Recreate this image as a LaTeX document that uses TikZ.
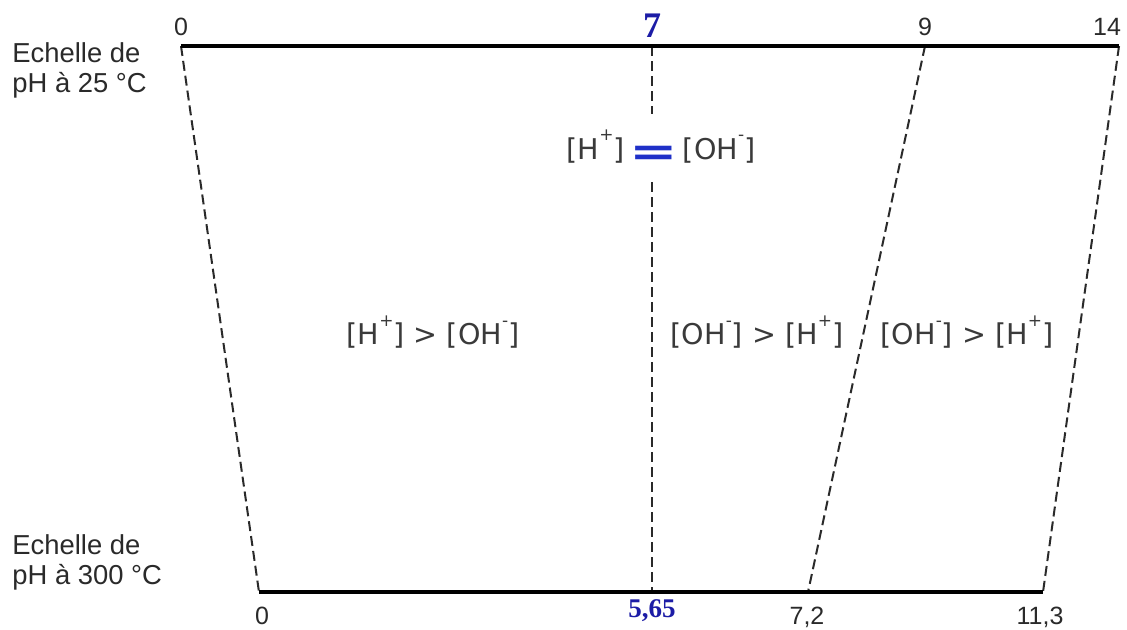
\documentclass[tikz,border=0pt]{standalone}
\usepackage{fontspec}
\usepackage{graphicx}
\setmainfont{Liberation Sans}
\newfontfamily\labfont{DejaVu Sans}
\newfontfamily\serifnum{Liberation Serif}
\definecolor{txt}{HTML}{2A2A2A}
\definecolor{lab}{HTML}{3A3A3A}
\definecolor{numblue}{HTML}{1C1CA6}
\definecolor{eqblue}{HTML}{1F30C8}
\newcommand\supx[1]{\raisebox{0.65em}{\fontsize{8.5}{8.5}\selectfont #1}}
\tikzset{
  axis/.style={line width=2.3pt, draw=black},
  dsh/.style={line width=1pt, draw=txt, dash pattern=on 5pt off 2.5pt},
  num/.style={font=\fontsize{12.5}{12.5}\selectfont, text=txt, inner sep=0pt, anchor=base},
  bnum/.style={font=\serifnum\bfseries\fontsize{13.5}{13.5}\selectfont, text=numblue, inner sep=0pt, anchor=base},
  scalelab/.style={font=\fontsize{13.7}{15}\selectfont, text=txt, inner sep=0pt, align=left, anchor=north west},
  conc/.style={font=\labfont\fontsize{14.3}{14.3}\selectfont, text=lab, inner sep=0pt},
}
\begin{document}
\begin{tikzpicture}[x=0.5pt,y=-0.5pt]
\useasboundingbox (0,0) rectangle (1127,629);
% scale end points
\coordinate (a0) at (181,46);
\coordinate (a7) at (652,46);
\coordinate (a9) at (925,46);
\coordinate (a14) at (1119,46);
\coordinate (b0) at (259,592);
\coordinate (b565) at (652,592);
\coordinate (b72) at (808,592);
\coordinate (b113) at (1043,592);
% labels of the scales
\node[scalelab] (s25) at (12,42) {Echelle de\\pH à 25 °C};
\node[scalelab] (s300) at (12,534) {Echelle de\\pH à 300 °C};
% tick numbers
\node[num] (t0) at (181,35) {0};
\node[bnum, font=\serifnum\bfseries\fontsize{18}{18}\selectfont] (t7) at (652,37) {7};
\node[num] (t9) at (925,35) {9};
\node[num] (t14) at (1107,35) {14};
\node[num] (u0) at (262,624) {0};
\node[bnum] (u565) at (652,617) {5,65};
\node[num] (u72) at (807,624) {7,2};
\node[num] (u113) at (1040,624) {11,3};
% concentration labels
\node[conc, inner ysep=8pt] (eq) at (661,148) {[H\supx{+}]\,\raisebox{-3.2pt}{\textcolor{eqblue}{\scalebox{1.45}[1]{\fontsize{20}{20}\selectfont\bfseries =}}}\,[OH\supx{-}]};
\node[conc] (acid) at (433,332) {[H\supx{+}] > [OH\supx{-}]};
\node[conc] (bas1) at (757,332) {[OH\supx{-}] > [H\supx{+}]};
\node[conc] (bas2) at (967,332) {[OH\supx{-}] > [H\supx{+}]};
% dashed correspondences
\draw[dsh] (a0) -- (b0);
\draw[dsh] (a7) -- (a7 |- eq.north);
\draw[dsh] (b565 |- eq.south) -- (b565);
\draw[dsh] (a9) -- (b72);
\draw[dsh] (a14) -- (b113);
% scales
\draw[axis] (a0) -- (a14);
\draw[axis] (b0) -- (b113);
\end{tikzpicture}
\end{document}
